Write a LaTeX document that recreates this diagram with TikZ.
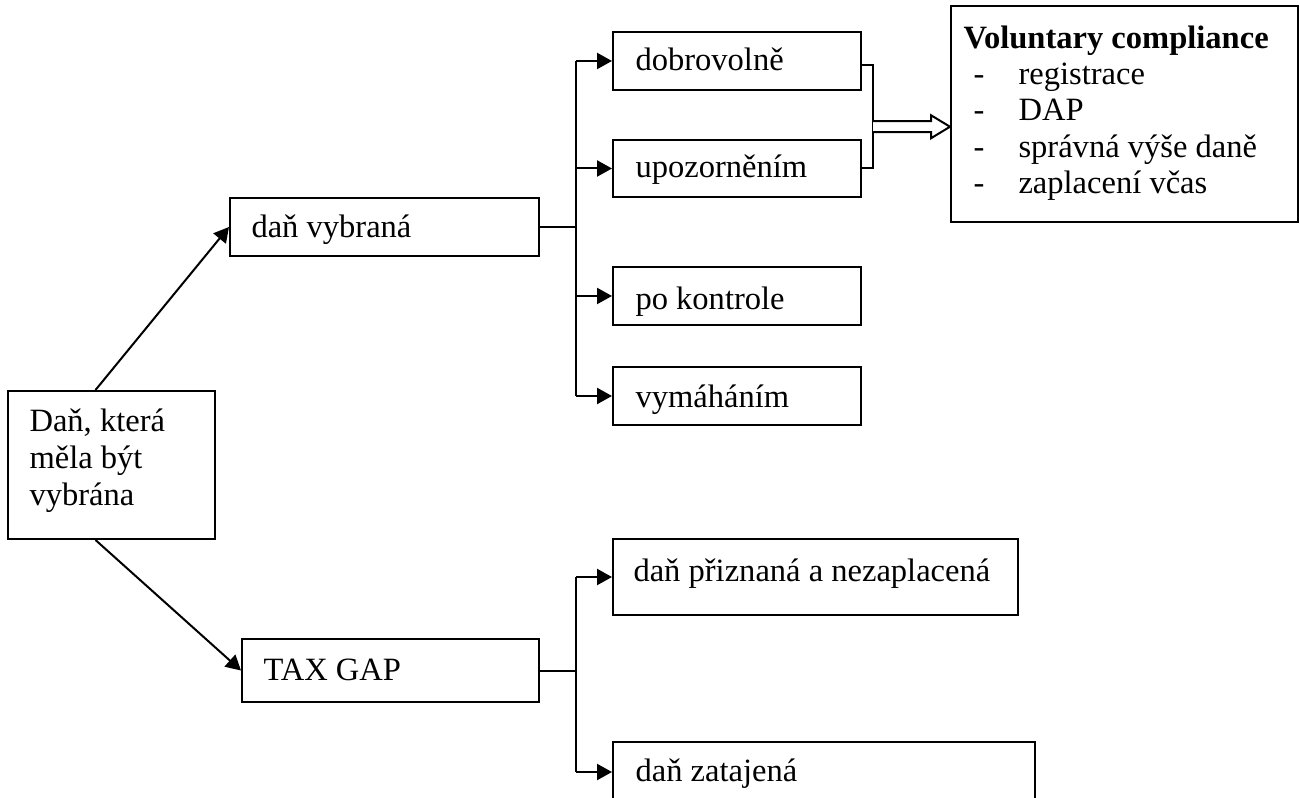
\documentclass[tikz,border=0pt]{standalone}
\usepackage{fontspec}
\setmainfont{Liberation Serif}
\usetikzlibrary{arrows.meta,fit,calc}
\begin{document}
\begin{tikzpicture}[x=0.375pt,y=-0.375pt,
  box/.style={draw,line width=0.75pt,inner sep=0pt,rectangle},
  txt/.style={anchor=base west,inner sep=0pt,font=\fontsize{12.2}{14}\selectfont},
  conn/.style={line width=0.75pt},
  arr/.style={conn,-{Triangle[length=5.6pt,width=6pt]}},
  hollow/.style={line width=0.75pt,fill=white,line join=miter}]
\useasboundingbox (0,0) rectangle (1300,798);

% root box
\node[box,fit={(8,391)(215,539)}] (main) {};
\node[txt] (mainA) at (29,432) {Daň, která};
\node[txt] (mainB) at (29,468) {měla být};
\node[txt] (mainC) at (29,505) {vybrána};

% first level
\node[box,fit={(230,198)(539,256)}] (vyb) {};
\node[txt] (vybT) at (251,238) {daň vybraná};
\node[box,fit={(242,639)(539,702)}] (gap) {};
\node[txt] (gapT) at (263,680) {TAX GAP};

% ways the tax is collected
\node[box,fit={(613,32)(861,90)}] (dobr) {};
\node[txt] (dobrT) at (635,71) {dobrovolně};
\node[box,fit={(613,140)(861,197)}] (upoz) {};
\node[txt] (upozT) at (635,178) {upozorněním};
\node[box,fit={(613,267)(861,325)}] (kontr) {};
\node[txt] (kontrT) at (635,310) {po kontrole};
\node[box,fit={(613,367)(861,425)}] (vym) {};
\node[txt] (vymT) at (635,408) {vymáháním};

% parts of the tax gap
\node[box,fit={(613,539)(1018,615)}] (prizn) {};
\node[txt] (priznT) at (633,581) {daň přiznaná a nezaplacená};
\node[box,fit={(613,742)(1035,810)}] (zat) {};
\node[txt] (zatT) at (635,781) {daň zatajená};

% voluntary compliance box
\node[box,fit={(951,6)(1298,222)}] (vol) {};
\node[txt,font=\fontsize{12.2}{14}\selectfont\bfseries] (volT) at (963,49) {Voluntary compliance};
\node[txt] (d1) at (973,85) {-};
\node[txt] (i1) at (1018,85) {registrace};
\node[txt] (d2) at (973,121) {-};
\node[txt] (i2) at (1018,121) {DAP};
\node[txt] (d3) at (973,158) {-};
\node[txt] (i3) at (1018,158) {správná výše daně};
\node[txt] (d4) at (973,194) {-};
\node[txt] (i4) at (1018,194) {zaplacení včas};

% root connectors
\draw[arr] ([shift={(-16,0)}]main.north) -- (vyb.west);
\draw[arr] ([shift={(-16,0)}]main.south) -- (gap.west);

% upper branch
\coordinate (j1) at ([shift={(36,0)}]vyb.east);
\draw[conn] (vyb.east) -- (j1);
\draw[conn] (j1 |- dobr.west) -- (j1 |- vym.west);
\draw[arr] (j1 |- dobr.west) -- (dobr.west);
\draw[arr] (j1 |- upoz.west) -- (upoz.west);
\draw[arr] (j1 |- kontr.west) -- (kontr.west);
\draw[arr] (j1 |- vym.west) -- (vym.west);

% lower branch
\coordinate (j2) at ([shift={(36,0)}]gap.east);
\coordinate (zin) at ([shift={(0,-4)}]zat.west);
\draw[conn] (gap.east) -- (j2);
\draw[conn] (j2 |- prizn.west) -- (j2 |- zin);
\draw[arr] (j2 |- prizn.west) -- (prizn.west);
\draw[arr] (j2 |- zin) -- (zin);

% bracket and hollow arrow
\coordinate (b1) at ([shift={(11,4)}]dobr.east);
\coordinate (b2) at ([shift={(11,0)}]upoz.east);
\draw[conn] (dobr.east |- b1) -- (b1) -- (b2) -- (upoz.east);
\coordinate (bm) at ($(b1)!0.5!(b2)+(0,10)$);
\coordinate (tip) at (vol.west |- bm);
\draw[hollow] ([shift={(0,-5.5)}]bm) -- ([shift={(-19,-5.5)}]tip)
  -- ([shift={(-19,-11.5)}]tip) -- (tip) -- ([shift={(-19,11.5)}]tip)
  -- ([shift={(-19,5.5)}]tip) -- ([shift={(0,5.5)}]bm);
\end{tikzpicture}
\end{document}
